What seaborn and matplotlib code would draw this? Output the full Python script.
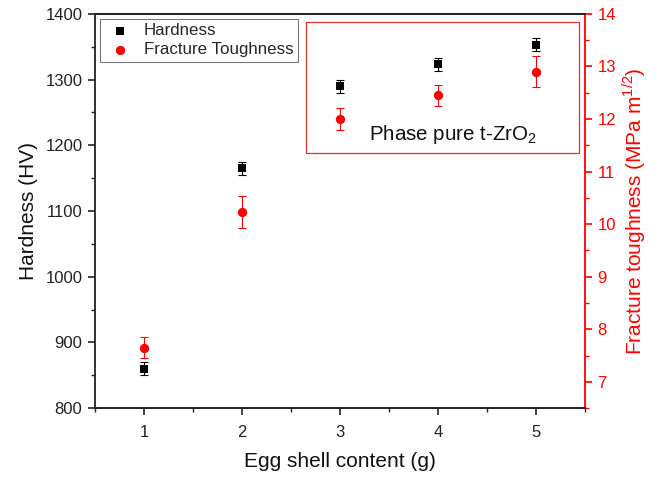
import matplotlib
matplotlib.use("Agg")
import matplotlib.pyplot as plt
import seaborn as sns
import pandas as pd
from matplotlib.ticker import MultipleLocator, AutoMinorLocator
from matplotlib.patches import Rectangle

# Measured data
egg_shell = [1, 2, 3, 4, 5]
hardness = [860, 1165, 1290, 1323, 1353]
hardness_err = [10, 10, 10, 10, 10]
toughness = [7.65, 10.23, 12.0, 12.45, 12.9]
toughness_err = [0.2, 0.3, 0.21, 0.2, 0.3]

sns.set_theme(style="ticks")
plt.rcParams["font.family"] = ["Liberation Sans", "DejaVu Sans"]
plt.rcParams["mathtext.fontset"] = "custom"
plt.rcParams["mathtext.rm"] = "Liberation Sans"

df = pd.DataFrame({"x": egg_shell, "hv": hardness, "kic": toughness})

fig = plt.figure(figsize=(6.66, 4.79), dpi=100)
ax = fig.add_axes([0.1426, 0.148, 0.7358, 0.823])
ax2 = ax.twinx()

RED = "#ff0000"
SQ = 28
CI = 45

ax.errorbar(egg_shell, hardness, yerr=hardness_err, fmt="none", ecolor="black",
            elinewidth=0.8, capsize=3, capthick=0.8, zorder=2)
sns.scatterplot(data=df, x="x", y="hv", ax=ax, marker="s", s=SQ, color="black",
                edgecolor="black", linewidth=0, zorder=3, legend=False)

ax2.errorbar(egg_shell, toughness, yerr=toughness_err, fmt="none", ecolor=RED,
             elinewidth=0.8, capsize=3, capthick=0.8, zorder=2)
sns.scatterplot(data=df, x="x", y="kic", ax=ax2, marker="o", s=CI, color=RED,
                edgecolor=RED, linewidth=0, zorder=3, legend=False)

ax.set_xlim(0.5, 5.5)
ax.set_ylim(800, 1400)
ax2.set_ylim(6.5, 14)

ax.xaxis.set_major_locator(MultipleLocator(1))
ax.xaxis.set_minor_locator(AutoMinorLocator(2))
ax.yaxis.set_major_locator(MultipleLocator(100))
ax.yaxis.set_minor_locator(AutoMinorLocator(2))
ax2.yaxis.set_major_locator(MultipleLocator(1))
ax2.yaxis.set_minor_locator(AutoMinorLocator(2))

for a in (ax, ax2):
    for s in a.spines.values():
        s.set_linewidth(1.3)
        s.set_color("#222222")
ax2.spines["right"].set_color(RED)
ax2.spines["left"].set_visible(False)
ax.spines["right"].set_visible(False)

ax.tick_params(axis="both", which="major", direction="out", length=5, width=1.2,
               labelsize=12, colors="#222222", pad=4)
ax.tick_params(axis="x", which="major", pad=7)
ax.tick_params(axis="both", which="minor", direction="out", length=3, width=1.0,
               colors="#222222")
ax2.tick_params(axis="y", which="major", direction="out", length=5, width=1.2,
                labelsize=12, colors=RED, pad=4)
ax2.tick_params(axis="y", which="minor", direction="out", length=3, width=1.0,
                colors=RED)

ax.set_xlabel("Egg shell content (g)", fontsize=15, color="#111111", labelpad=9)
ax.set_ylabel("Hardness (HV)", fontsize=15, color="#111111", labelpad=5)
ax2.set_ylabel(r"Fracture toughness (MPa m$^{1/2}$)", fontsize=15, color=RED,
               labelpad=3)

# Legend
h1 = ax.scatter([], [], marker="s", s=SQ, color="black", linewidth=0)
h2 = ax.scatter([], [], marker="o", s=CI, color=RED, linewidth=0)
leg = ax.legend([h1, h2], ["Hardness", "Fracture Toughness"], loc="upper left",
                bbox_to_anchor=(0.0, 1.0), fontsize=12.2, frameon=True,
                fancybox=False, edgecolor="#555555", handletextpad=0.45,
                borderpad=0.25, labelspacing=0.25, handlelength=1.9,
                borderaxespad=0.3)
leg.get_frame().set_linewidth(0.8)

# Highlight box for the t-ZrO2 region
ax.add_patch(Rectangle((2.653, 1188), 5.44 - 2.653, 1388 - 1188, fill=False,
                       edgecolor="#e03030", linewidth=0.9, zorder=1))
ax.text(4.15, 1217, r"Phase pure t-ZrO$_2$", fontsize=14.8, color="#111111",
        ha="center", va="center", zorder=4)

fig.savefig("out.png", dpi=100)
